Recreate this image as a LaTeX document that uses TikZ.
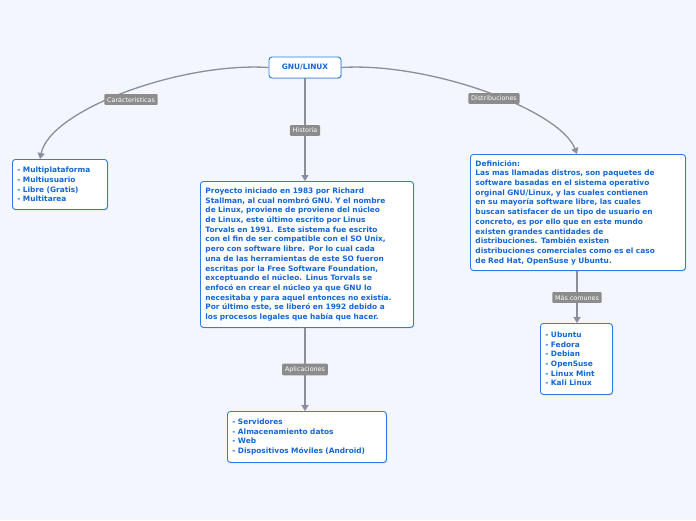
\documentclass[tikz,border=0pt]{standalone}
\usepackage{fontspec}
\setmainfont{DejaVu Sans}
\usetikzlibrary{arrows.meta,shadows}
\definecolor{bgcol}{HTML}{F3F6FD}
\definecolor{txtblue}{HTML}{1366D6}
\definecolor{boxline}{HTML}{2A7DE1}
\definecolor{linkgray}{HTML}{8A8F99}
\definecolor{tagfill}{HTML}{8C8C8C}
\begin{document}
\begin{tikzpicture}[x=1pt,y=-1pt]
        % Styles
        \tikzset{topic/.style={draw=boxline,fill=white,rounded corners=3pt,line width=0.9pt,
            drop shadow={shadow xshift=1pt,shadow yshift=-1pt,opacity=.25},
            font=\fontsize{7.4}{9.7}\selectfont\bfseries,text=txtblue,align=left,inner sep=5pt}}
        \tikzset{tag/.style={fill=tagfill,rounded corners=1pt,text=white,
            font=\fontsize{6.4}{7.5}\selectfont,inner sep=2.8pt}}
        \tikzset{link/.style={draw=linkgray,line width=1.3pt,-{Triangle[length=6pt,width=7pt]}}}
        %background
        \fill[bgcol] (0,0) rectangle (696,520);
        \useasboundingbox (0,0) rectangle (696,520);
        %nodes
        \node[topic,align=center,minimum width=72pt,minimum height=21pt] (root) at (305,67.5) {GNU/LINUX};
        \node[topic,anchor=north west,text width=85pt,minimum height=50pt] (carac) at (12,159) {- Multiplataforma\\- Multiusuario\\- Libre (Gratis)\\- Multitarea};
        \node[topic,anchor=north west,text width=203pt,minimum height=146pt] (hist) at (200,181) {Proyecto iniciado en 1983 por Richard\\Stallman, al cual nombró GNU. Y el nombre\\de Linux, proviene de proviene del núcleo\\de Linux, este último escrito por Linus\\Torvals en 1991. Este sistema fue escrito\\con el fin de ser compatible con el SO Unix,\\pero con software libre. Por lo cual cada\\una de las herramientas de este SO fueron\\escritas por la Free Software Foundation,\\exceptuando el núcleo. Linus Torvals se\\enfocó en crear el núcleo ya que GNU lo\\necesitaba y para aquel entonces no existía.\\Por último este, se liberó en 1992 debido a\\los procesos legales que había que hacer.};
        \node[topic,anchor=north west,text width=149pt,minimum height=51pt] (apps) at (227,411) {- Servidores\\- Almacenamiento datos\\- Web\\- Dispositivos Móviles (Android)};
        \node[topic,anchor=north west,text width=205pt,minimum height=116pt] (defi) at (470,154) {Definición:\\Las mas llamadas distros, son paquetes de\\software basadas en el sistema operativo\\orginal GNU/Linux, y las cuales contienen\\en su mayoría software libre, las cuales\\buscan satisfacer de un tipo de usuario en\\concreto, es por ello que en este mundo\\existen grandes cantidades de\\distribuciones. También existen\\distribuciones comerciales como es el caso\\de Red Hat, OpenSuse y Ubuntu.};
        \node[topic,anchor=north west,text width=62pt,minimum height=71pt] (distros) at (540,323) {- Ubuntu\\- Fedora\\- Debian\\- OpenSuse\\- Linux Mint\\- Kali Linux};
        %connectors
        \draw[link] (root.west) .. controls (180,62) and (50,110) .. (carac.north west -| 40,0);
        \draw[link] (root.east) .. controls (430,62) and (560,110) .. (defi.north -| 577,0);
        \draw[link] (root.south) -- (hist.north -| root.south);
        \draw[link] (hist.south -| root.south) -- (apps.north -| root.south);
        \draw[link] (defi.south -| 577,0) -- (distros.north -| 577,0);
        %tags
        \node[tag] (tcarac) at (131,99.5) {Carácteristicas};
        \node[tag] (thist) at (305,130.5) {Historia};
        \node[tag] (tdist) at (494,98.5) {Distribuciones};
        \node[tag] (tapps) at (305,369.5) {Aplicaciones};
        \node[tag] (tcom) at (577,297.5) {Más comunes};
\end{tikzpicture}
\end{document}
